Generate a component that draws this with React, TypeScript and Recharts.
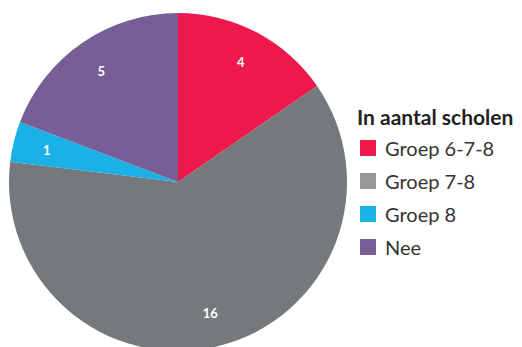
import React from "react";
import { PieChart, Pie, Cell, Legend } from "recharts";

const categories = ["Groep 6-7-8", "Groep 7-8", "Groep 8", "Nee"];
const values = [4, 16, 1, 5];
const sliceColors = ["#ed184b", "#76797b", "#1bb0e6", "#785e96"];
const legendColors = ["#ed184b", "#98989a", "#1bb0e6", "#785e96"];
const legendTitle = "In aantal scholen";

const data = categories.map((name, i) => ({ name, value: values[i] }));

const RADIAN = Math.PI / 180;

const renderLabel = (props: any) => {
  const { cx, cy, midAngle, outerRadius, value } = props;
  const r = outerRadius * 0.8;
  const x = cx + r * Math.cos(-midAngle * RADIAN);
  const y = cy + r * Math.sin(-midAngle * RADIAN);
  return (
    <text
      x={x}
      y={y}
      fill="#ffffff"
      textAnchor="middle"
      dominantBaseline="central"
      fontFamily="Lato, sans-serif"
      fontWeight={700}
      fontSize={13}
    >
      {value}
    </text>
  );
};

const renderLegend = () => (
  <div style={{ fontFamily: "Lato, sans-serif", color: "#333333" }}>
    <div style={{ fontWeight: 700, fontSize: 21, marginBottom: 2, color: "#222", whiteSpace: "nowrap" }}>
      {legendTitle}
    </div>
    {categories.map((c, i) => (
      <div
        key={c}
        style={{ display: "flex", alignItems: "center", height: 33, fontSize: 20 }}
      >
        <span
          style={{
            display: "inline-block",
            width: 16,
            height: 16,
            background: legendColors[i],
            marginLeft: 3,
            marginRight: 9,
          }}
        />
        {c}
      </div>
    ))}
  </div>
);

export default function App() {
  return (
    <div style={{ position: "absolute", left: 0, top: 0, width: 522, height: 347, overflow: "hidden" }}>
      <PieChart width={522} height={347} margin={{ top: 0, right: 0, bottom: 0, left: 0 }}>
        <Pie
          data={data}
          dataKey="value"
          nameKey="name"
          cx={178}
          cy={182}
          outerRadius={169}
          startAngle={90}
          endAngle={-270}
          stroke="none"
          label={renderLabel}
          labelLine={false}
          isAnimationActive={false}
        >
          {data.map((d, i) => (
            <Cell key={d.name} fill={sliceColors[i]} />
          ))}
        </Pie>
        <Legend
          layout="vertical"
          content={renderLegend}
          wrapperStyle={{ left: 357, top: 104, width: 170 }}
        />
      </PieChart>
    </div>
  );
}
